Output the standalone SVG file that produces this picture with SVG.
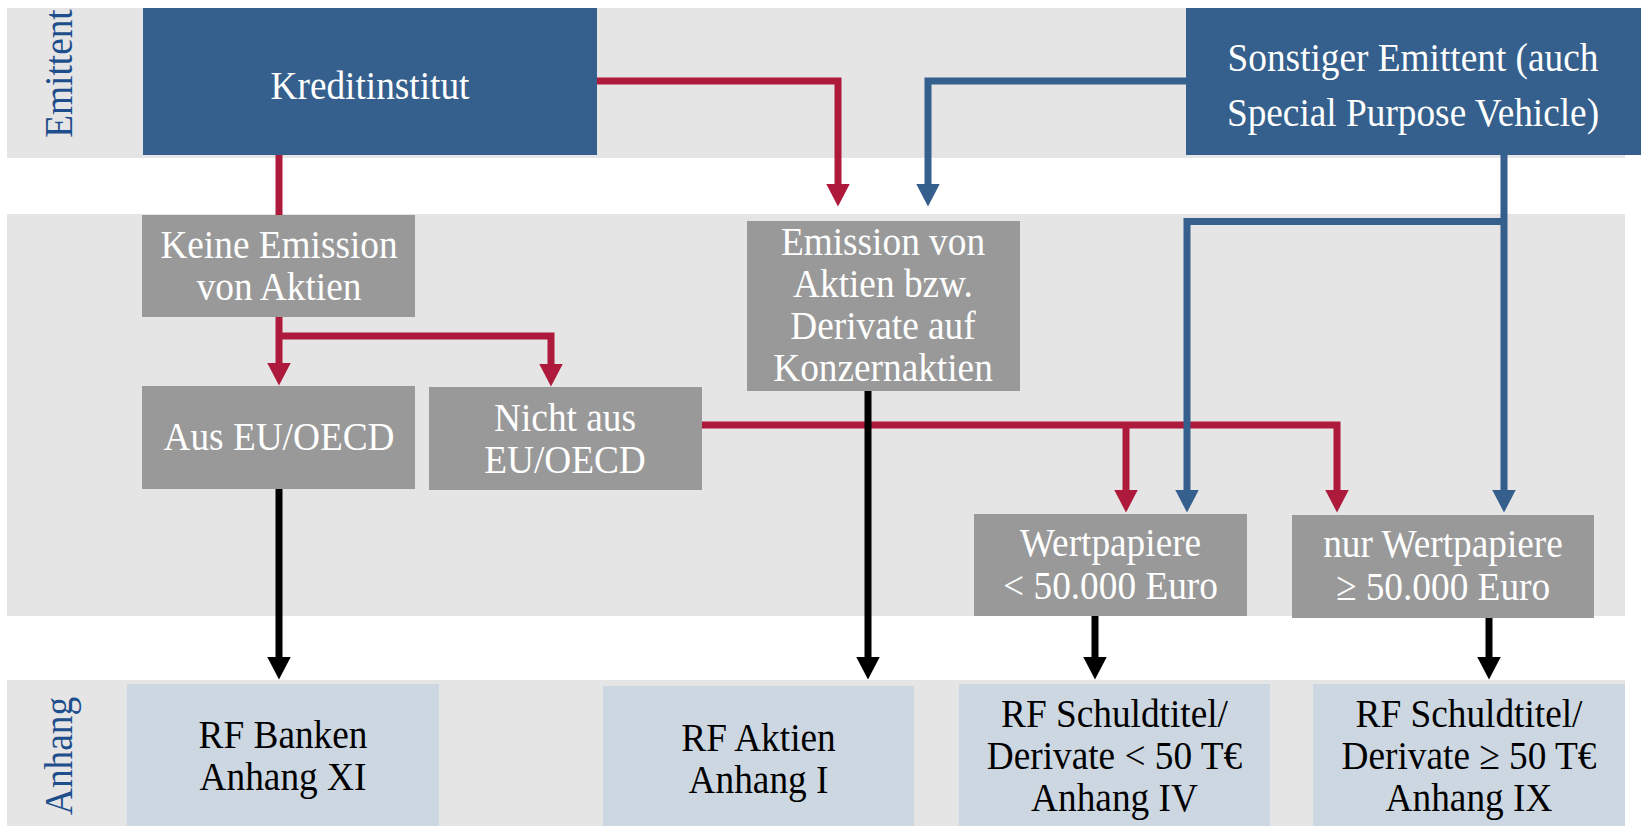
<svg xmlns="http://www.w3.org/2000/svg" width="1641" height="826" viewBox="0 0 1641 826">
<style>
.band{fill:#E5E5E5}
.blue{fill:#355F8C}
.gray{fill:#999999}
.light{fill:#CDD7E1}
.t{font-family:"Liberation Serif","Times New Roman",serif;font-size:41px;text-anchor:middle}
.w{fill:#FFFFFF}
.k{fill:#000000}
.lbl{fill:#1F4E8C}
.c{fill:none;stroke-width:7;stroke-linejoin:miter;stroke-linecap:butt}
.r{stroke:#AD1A3B}
.b{stroke:#355F8C}
.bk{stroke:#000000}
</style>
<defs>
<marker id="mr" markerUnits="userSpaceOnUse" markerWidth="24" markerHeight="24" viewBox="0 0 24 24" refX="0.5" refY="12" orient="auto"><path d="M0,0 L23,12 L0,24 Z" fill="#AD1A3B"/></marker>
<marker id="mb" markerUnits="userSpaceOnUse" markerWidth="24" markerHeight="24" viewBox="0 0 24 24" refX="0.5" refY="12" orient="auto"><path d="M0,0 L23,12 L0,24 Z" fill="#355F8C"/></marker>
<marker id="mk" markerUnits="userSpaceOnUse" markerWidth="24" markerHeight="24" viewBox="0 0 24 24" refX="0.5" refY="12" orient="auto"><path d="M0,0 L23,12 L0,24 Z" fill="#000000"/></marker>
</defs>
<rect width="1641" height="826" fill="#FFFFFF"/>
<g id="bands">
<rect class="band" x="7" y="8" width="1618" height="150"/>
<rect class="band" x="7" y="214" width="1618" height="402"/>
<rect class="band" x="7" y="680" width="1618" height="146"/>
<text class="t lbl" transform="translate(72 73.5) rotate(-90) scale(0.91 1)" x="0" y="0">Emittent</text>
<text class="t lbl" transform="translate(72 756) rotate(-90) scale(0.91 1)" x="0" y="0">Anhang</text>
</g>
<g id="connectors">
<path class="c r" d="M597,81 H838 V184" marker-end="url(#mr)"/>
<path class="c r" d="M279,155 V215"/>
<path class="c r" d="M279,317 V363" marker-end="url(#mr)"/>
<path class="c r" d="M279,336 H551 V364" marker-end="url(#mr)"/>
<path class="c r" d="M701,425 H1337 V490" marker-end="url(#mr)"/>
<path class="c r" d="M1126,425 V490" marker-end="url(#mr)"/>
<path class="c b" d="M1186,81 H928 V184" marker-end="url(#mb)"/>
<path class="c b" d="M1504,155 V490" marker-end="url(#mb)"/>
<path class="c b" d="M1504,221.5 H1187 V490" marker-end="url(#mb)"/>
<path class="c bk" d="M279,489 V657" marker-end="url(#mk)"/>
<path class="c bk" d="M868,391 V657" marker-end="url(#mk)"/>
<path class="c bk" d="M1095,616 V657" marker-end="url(#mk)"/>
<path class="c bk" d="M1489,618 V657" marker-end="url(#mk)"/>
</g>
<g id="kreditinstitut">
<rect class="blue" x="143" y="8" width="454" height="147"/>
<text class="t w" transform="translate(370 0) scale(0.91 1)"><tspan x="0" y="99">Kreditinstitut</tspan></text>
</g>
<g id="sonstiger">
<rect class="blue" x="1186" y="8" width="455" height="147"/>
<text class="t w" transform="translate(1413 0) scale(0.91 1)"><tspan x="0" y="71">Sonstiger Emittent (auch</tspan><tspan x="0" y="126">Special Purpose Vehicle)</tspan></text>
</g>
<g id="keine-emission">
<rect class="gray" x="142" y="215" width="273" height="102"/>
<text class="t w" transform="translate(279 0) scale(0.91 1)"><tspan x="0" y="258">Keine Emission</tspan><tspan x="0" y="300">von Aktien</tspan></text>
</g>
<g id="emission-aktien">
<rect class="gray" x="747" y="221" width="273" height="170"/>
<text class="t w" transform="translate(883 0) scale(0.91 1)"><tspan x="0" y="255">Emission von</tspan><tspan x="0" y="297">Aktien bzw.</tspan><tspan x="0" y="339">Derivate auf</tspan><tspan x="0" y="381">Konzernaktien</tspan></text>
</g>
<g id="aus-eu">
<rect class="gray" x="142" y="386" width="273" height="103"/>
<text class="t w" transform="translate(279 0) scale(0.91 1)"><tspan x="0" y="450">Aus EU/OECD</tspan></text>
</g>
<g id="nicht-aus-eu">
<rect class="gray" x="429" y="387" width="273" height="103"/>
<text class="t w" transform="translate(565 0) scale(0.91 1)"><tspan x="0" y="431">Nicht aus</tspan><tspan x="0" y="473">EU/OECD</tspan></text>
</g>
<g id="wertpapiere-klein">
<rect class="gray" x="974" y="514" width="273" height="102"/>
<text class="t w" transform="translate(1110.5 0) scale(0.91 1)"><tspan x="0" y="556">Wertpapiere</tspan><tspan x="0" y="599">&lt; 50.000 Euro</tspan></text>
</g>
<g id="wertpapiere-gross">
<rect class="gray" x="1292" y="515" width="302" height="103"/>
<text class="t w" transform="translate(1443 0) scale(0.91 1)"><tspan x="0" y="557">nur Wertpapiere</tspan><tspan x="0" y="600">≥ 50.000 Euro</tspan></text>
</g>
<g id="rf-banken">
<rect class="light" x="127" y="684" width="312" height="142"/>
<text class="t k" transform="translate(283 0) scale(0.91 1)"><tspan x="0" y="748">RF Banken</tspan><tspan x="0" y="790">Anhang XI</tspan></text>
</g>
<g id="rf-aktien">
<rect class="light" x="603" y="686" width="311" height="140"/>
<text class="t k" transform="translate(758.5 0) scale(0.91 1)"><tspan x="0" y="751">RF Aktien</tspan><tspan x="0" y="793">Anhang I</tspan></text>
</g>
<g id="rf-schuldtitel-iv">
<rect class="light" x="959" y="684" width="311" height="142"/>
<text class="t k" transform="translate(1114.5 0) scale(0.91 1)"><tspan x="0" y="727">RF Schuldtitel/</tspan><tspan x="0" y="769">Derivate &lt; 50 T€</tspan><tspan x="0" y="811">Anhang IV</tspan></text>
</g>
<g id="rf-schuldtitel-ix">
<rect class="light" x="1313" y="684" width="312" height="142"/>
<text class="t k" transform="translate(1469 0) scale(0.91 1)"><tspan x="0" y="727">RF Schuldtitel/</tspan><tspan x="0" y="769">Derivate ≥ 50 T€</tspan><tspan x="0" y="811">Anhang IX</tspan></text>
</g>
</svg>
